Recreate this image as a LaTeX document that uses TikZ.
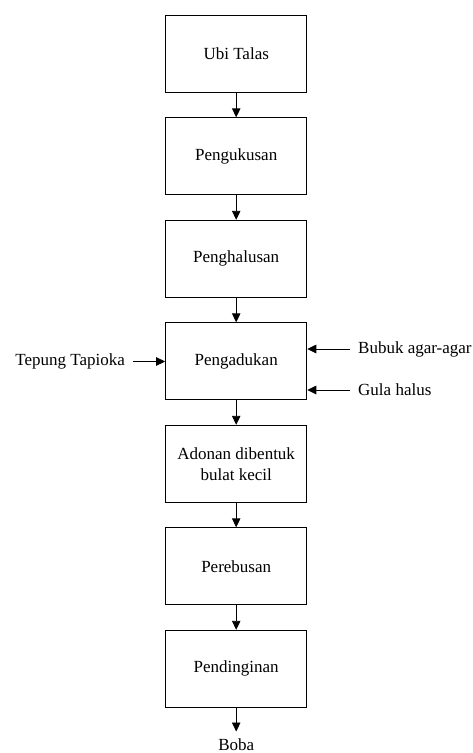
\documentclass[tikz,border=0pt]{standalone}
\usepackage{fontspec}
\setmainfont{Liberation Serif}
\newfontfamily\diagfont{Liberation Serif}
\usetikzlibrary{arrows.meta}

\begin{document}
\begin{tikzpicture}[x=1pt, y=-1pt,
    every node/.style={font=\diagfont\fontsize{17}{21}\selectfont},
    procbox/.style={draw, line width=1.1pt, minimum width=141pt, minimum height=76.7pt, align=center, inner sep=0pt},
    sidetext/.style={inner xsep=8pt, inner ysep=0pt},
    flow/.style={-{Triangle[length=9pt,width=8.5pt]}, line width=0.9pt}]
    \useasboundingbox (0,0) rectangle (472,753);
            % main process column
            \node[procbox] (ubi) at (236.2,53.7) {Ubi Talas};
            \node[procbox] (kukus) at (236.2,156.2) {Pengukusan};
            \node[procbox] (halus) at (236.2,258.7) {Penghalusan};
            \node[procbox] (aduk) at (236.2,361.2) {Pengadukan};
            \node[procbox] (bentuk) at (236.2,463.7) {Adonan dibentuk\\bulat kecil};
            \node[procbox] (rebus) at (236.2,566.2) {Perebusan};
            \node[procbox] (dingin) at (236.2,668.7) {Pendinginan};
            \node[inner ysep=6.5pt, anchor=base] (boba) at (236.2,750) {Boba};
            % side inputs
            \node[sidetext, anchor=east] (tapioka) at (133,361.5) {Tepung Tapioka};
            \node[sidetext, anchor=west] (agar) at (350,349) {Bubuk agar-agar};
            \node[sidetext, anchor=west] (gula) at (350,390) {Gula halus};
            % arrows
            \draw[flow] (ubi) -- (kukus);
            \draw[flow] (kukus) -- (halus);
            \draw[flow] (halus) -- (aduk);
            \draw[flow] (aduk) -- (bentuk);
            \draw[flow] (bentuk) -- (rebus);
            \draw[flow] (rebus) -- (dingin);
            \draw[flow] (dingin) -- (boba);
            \draw[flow] (tapioka.east) -- (tapioka.east -| aduk.west);
            \draw[flow] (agar.west) -- (agar.west -| aduk.east);
            \draw[flow] (gula.west) -- (gula.west -| aduk.east);
\end{tikzpicture}
\end{document}
